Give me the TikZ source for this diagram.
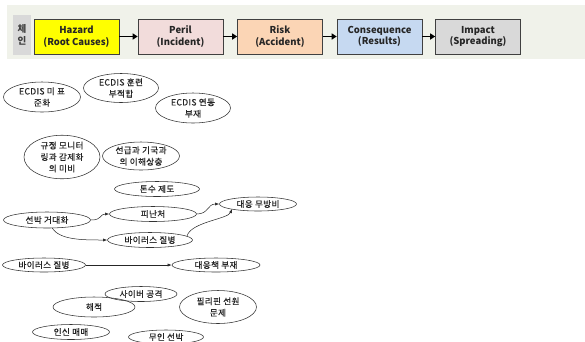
\documentclass[tikz,border=0pt]{standalone}
\usepackage{fontspec}
\setmainfont{Noto Sans CJK KR}
\newfontfamily\hdrfont{Noto Sans CJK KR}
\newfontfamily\ellfont[FakeBold=0.5,LetterSpace=4]{Noto Sans CJK KR}
\usetikzlibrary{shapes.geometric,arrows.meta,calc}
\definecolor{bandcol}{HTML}{F0F2EA}
\definecolor{chaincol}{HTML}{D9D9D9}
\definecolor{hazcol}{HTML}{FFFF00}
\definecolor{perilcol}{HTML}{F2DCDB}
\definecolor{riskcol}{HTML}{FBD5B5}
\definecolor{conscol}{HTML}{C6D9F1}
\definecolor{impcol}{HTML}{D9D9D9}
\definecolor{edgecol}{HTML}{404040}
\tikzset{
  hbox/.style={draw=edgecol, line width=0.6pt, minimum width=85pt, minimum height=35pt, inner sep=0pt, align=center, font=\hdrfont\bfseries\fontsize{9.5}{11.5}\selectfont, text=black!85},
  harrow/.style={line width=1.8pt, -{Triangle[length=5pt,width=6pt]}},
  ell/.style={ellipse, draw=black!80, line width=0.55pt, inner sep=0pt, align=center, font=\ellfont\fontsize{8.6}{11.5}\selectfont, text=black!85},
  carrow/.style={line width=0.5pt, black!85, -{Latex[length=4pt,width=3pt]}}
}
\begin{document}
\begin{tikzpicture}[x=1pt,y=-1pt]
\useasboundingbox (0,0) rectangle (585,341);
\fill[white] (0,0) rectangle (585,341);
% header band
\fill[bandcol] (7,5) rectangle (585,59);
\node[fill=chaincol, minimum width=18pt, minimum height=40pt, inner sep=0pt, align=center, font=\hdrfont\bfseries\fontsize{9.5}{11.5}\selectfont, text=black!75] (chain) at (22,35) {체\\인};
\node[hbox, fill=hazcol] (haz) at (76.5,36.5) {Hazard\\(Root Causes)};
\node[hbox, fill=perilcol] (per) at (180.5,36.5) {Peril\\(Incident)};
\node[hbox, fill=riskcol] (risk) at (280,36.5) {Risk\\(Accident)};
\node[hbox, fill=conscol] (cons) at (379.5,36.5) {Consequence\\(Results)};
\node[hbox, fill=impcol] (imp) at (478,36.5) {Impact\\(Spreading)};
\draw[harrow] (haz.east) -- (per.west);
\draw[harrow] (per.east) -- (risk.west);
\draw[harrow] (risk.east) -- (cons.west);
\draw[harrow] (cons.east) -- (imp.west);
% ellipses
\node[ell, minimum width=77pt, minimum height=30pt] (e1) at (42,97) {ECDIS 미 표\\준화};
\node[ell, minimum width=75pt, minimum height=29pt] (e2) at (121,88) {ECDIS 훈련\\부적합};
\node[ell, minimum width=75pt, minimum height=30pt] (e3) at (193,108) {ECDIS 연동\\부재};
\node[ell, minimum width=76pt, minimum height=43pt] (e4) at (62,157) {규정 모니터\\링과 감제화\\의 미비};
\node[ell, minimum width=77pt, minimum height=28pt] (e5) at (141,156) {선급과 기국과\\의 이해상충};
\node[ell, minimum width=85pt, minimum height=15pt] (e6) at (157,189) {톤수 제도};
\node[ell, minimum width=87pt, minimum height=16pt] (sg) at (47,220) {선박 거대화};
\node[ell, minimum width=87pt, minimum height=15pt] (pn) at (153,214) {피난처};
\node[ell, minimum width=77pt, minimum height=14pt] (dm) at (258,204) {대응 무방비};
\node[ell, minimum width=85pt, minimum height=15pt] (v1) at (150,240) {바이러스 질병};
\node[ell, minimum width=83pt, minimum height=14pt] (v2) at (44,265) {바이러스 질병};
\node[ell, minimum width=88pt, minimum height=14pt] (db) at (216,265) {대응책 부재};
\node[ell, minimum width=72pt, minimum height=15pt] (cy) at (141,294) {사이버 공격};
\node[ell, minimum width=82pt, minimum height=20pt] (hj) at (94,307) {해적};
\node[ell, minimum width=77pt, minimum height=33pt] (ph) at (218,307) {필리핀 선원\\문제};
\node[ell, minimum width=77pt, minimum height=15pt] (im) at (71,332) {인신 매매};
\node[ell, minimum width=75pt, minimum height=14pt] (mu) at (166,337) {무인 선박};
% connectors
\draw[carrow] (sg.east) .. controls +(12,0) and +(-10,0) .. (pn.west);
\draw[carrow] ($(sg.center)+(5,8)$) .. controls +(8,12) and +(-25,0) .. (v1.west);
\draw[carrow] (pn.east) .. controls +(12,0) and +(-12,0) .. (dm.west);
\draw[carrow] ($(v1.center)+(37,-4)$) .. controls +(4,-14) and +(-4,10) .. ($(dm.center)+(-26,5)$);
\draw[carrow] (v2.east) -- (db.west);
\end{tikzpicture}
\end{document}
